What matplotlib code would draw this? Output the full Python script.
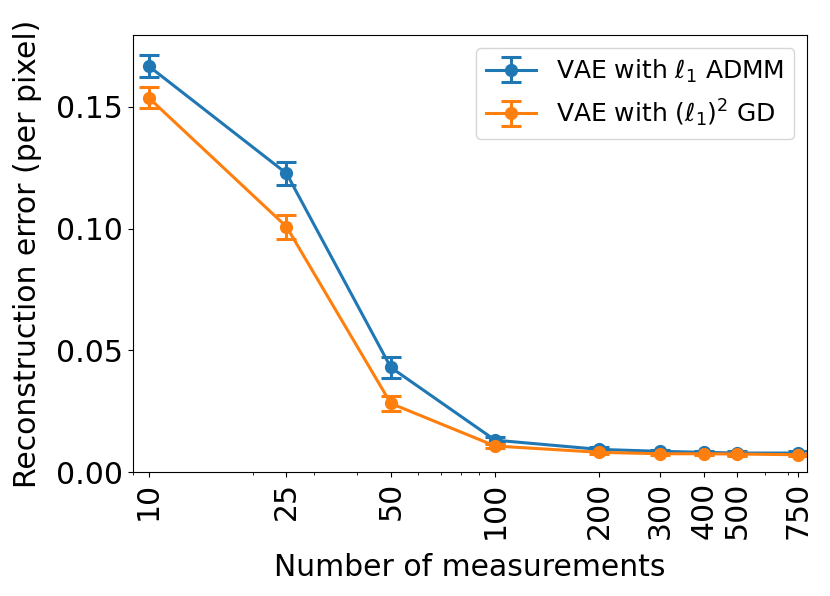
import numpy as np
import matplotlib
matplotlib.use('Agg')
import matplotlib.pyplot as plt

# 测量数
measurements = [10, 25, 50, 100, 200, 300, 400, 500, 750]

# VAE with l1 ADMM
admm_err = [0.1668, 0.1227, 0.0430, 0.0131, 0.0093, 0.0085, 0.0081, 0.0078, 0.0078]
admm_std = [0.0046, 0.0048, 0.0043, 0.0012, 0.0008, 0.0007, 0.0007, 0.0007, 0.0007]

# VAE with (l1)^2 GD
gd_err = [0.1538, 0.1008, 0.0282, 0.0107, 0.0081, 0.0075, 0.0075, 0.0074, 0.0071]
gd_std = [0.0044, 0.0049, 0.0032, 0.0010, 0.0008, 0.0007, 0.0007, 0.0007, 0.0007]

fig = plt.figure(figsize=(8.3, 5.96), dpi=100)
ax = fig.add_axes([0.160, 0.208, 0.812, 0.733])

ax.errorbar(measurements, admm_err, yerr=admm_std, marker='o', markersize=8.5,
            linewidth=2.2, elinewidth=2.2, capsize=7, capthick=2.2,
            color='#1f77b4', label=r'VAE with $\ell_1$ ADMM')
ax.errorbar(measurements, gd_err, yerr=gd_std, marker='o', markersize=8.5,
            linewidth=2.2, elinewidth=2.2, capsize=7, capthick=2.2,
            color='#ff7f0e', label=r'VAE with $(\ell_1)^2$ GD')

ax.set_xscale('log')
ax.set_xticks(measurements)
ax.set_xticklabels([str(m) for m in measurements], rotation=90)
ax.set_xlim(9.0, 794)
ax.set_ylim(0, 0.1795)
ax.set_yticks([0.0, 0.05, 0.10, 0.15])
ax.set_yticklabels(['0.00', '0.05', '0.10', '0.15'])
ax.tick_params(axis='both', labelsize=21.5)
ax.set_xlabel('Number of measurements', fontsize=21.5, labelpad=10)
ax.set_ylabel('Reconstruction error (per pixel)', fontsize=21.5, labelpad=10)
ax.legend(fontsize=18, loc='upper right')

fig.savefig('out.png', dpi=100)
